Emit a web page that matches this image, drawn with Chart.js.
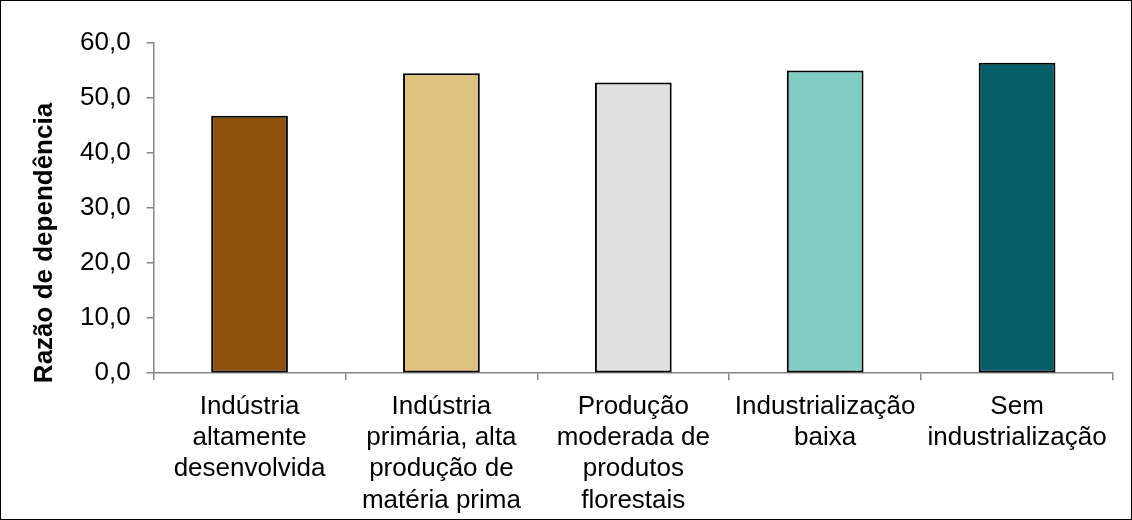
<!DOCTYPE html>
<html>
<head>
<meta charset="utf-8">
<script src="https://cdn.jsdelivr.net/npm/chart.js@4"></script>
<style>
  html, body { margin: 0; padding: 0; background: #fff; }
  #frame {
    width: 1132px; height: 520px;
    box-sizing: border-box;
    border: 1px solid #000;
    position: relative;
  }
  #frame canvas { display: block; }
</style>
</head>
<body>
<div id="frame"><canvas id="chart"></canvas></div>
<script>
'use strict';

// categories (multi-line labels) and values
const categories = [
  ['Indústria', 'altamente', 'desenvolvida'],
  ['Indústria', 'primária, alta', 'produção de', 'matéria prima'],
  ['Produção', 'moderada de', 'produtos', 'florestais'],
  ['Industrialização', 'baixa'],
  ['Sem', 'industrialização']
];
const dependencyRatio = [46.8, 54.5, 52.8, 55.0, 56.4];
const barColors = ['#8C510A', '#DFC27D', '#E0E0E0', '#80CDC1', '#035E67'];
const yTicks = [0, 10, 20, 30, 40, 50, 60];
const yTitle = 'Razão de dependência';

const axisGray = '#868686';
const fontFamily = '"Liberation Sans", Arial, sans-serif';

// vertical axis title, drawn on the left side
const yTitlePlugin = {
  id: 'yTitle',
  afterDraw(chart) {
    const ctx = chart.ctx;
    ctx.save();
    ctx.translate(44, 242);
    ctx.rotate(-Math.PI / 2);
    ctx.font = 'bold 26px ' + fontFamily;
    ctx.fillStyle = '#000';
    ctx.textAlign = 'center';
    ctx.textBaseline = 'middle';
    ctx.fillText(yTitle, 0, 0);
    ctx.restore();
  }
};

const drawingContext = document.getElementById('chart').getContext('2d');

new Chart(drawingContext, {
  type: 'bar',
  data: {
    labels: categories,
    datasets: [{
      label: yTitle,
      data: dependencyRatio,
      backgroundColor: barColors,
      borderColor: '#000',
      borderWidth: 2,
      borderSkipped: false,
      barPercentage: 0.4,
      categoryPercentage: 1
    }]
  },
  plugins: [yTitlePlugin],
  options: {
    responsive: true,
    maintainAspectRatio: false,
    animation: false,
    layout: { padding: { left: 63, right: 18, top: 42, bottom: -8 } },
    plugins: {
      legend: { display: false },
      tooltip: { enabled: false }
    },
    scales: {
      x: {
        grid: {
          drawOnChartArea: false,
          drawTicks: true,
          tickLength: 7,
          color: axisGray,
          lineWidth: 1.5
        },
        border: { color: axisGray, width: 1.5 },
        ticks: {
          color: '#000',
          padding: 11,
          maxRotation: 0,
          autoSkip: false,
          font: { family: fontFamily, size: 26, lineHeight: 1.2 }
        }
      },
      y: {
        min: 0,
        max: 60,
        afterBuildTicks(scale) {
          scale.ticks = yTicks.map(v => ({ value: v }));
        },
        grid: {
          drawOnChartArea: false,
          drawTicks: true,
          tickLength: 7,
          color: axisGray,
          lineWidth: 1.5
        },
        border: { color: axisGray, width: 1.5 },
        ticks: {
          color: '#000',
          padding: 16,
          font: { family: fontFamily, size: 26 },
          callback: v => v.toFixed(1).replace('.', ',')
        }
      }
    }
  }
});
</script>
</body>
</html>
